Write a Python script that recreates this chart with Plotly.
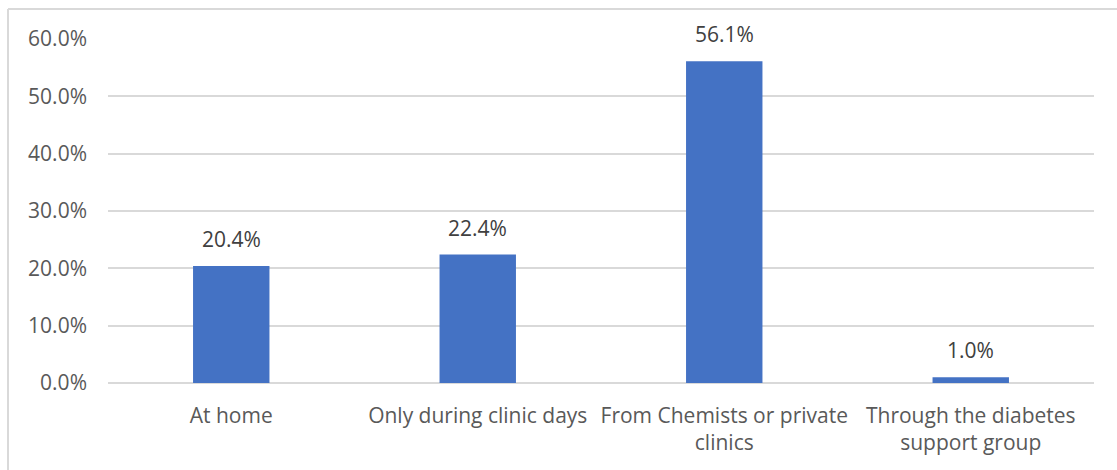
import plotly.graph_objects as go

# Where respondents get their blood glucose checked
categories = [
    "At home",
    "Only during clinic days",
    "From Chemists or private<br>clinics",
    "Through the diabetes<br>support group",
]
shares = [20.4, 22.4, 56.1, 1.0]
y_ticks = [0, 10, 20, 30, 40, 50, 60]

FONT = "Open Sans"
BAR_COLOR = "#4472C4"
GRID = "#D9D9D9"
SIZE = 21

fig = go.Figure(
    go.Bar(
        x=categories,
        y=shares,
        marker=dict(color=BAR_COLOR, line=dict(width=0)),
        width=0.31,
        hoverinfo="skip",
    )
)

# value labels sitting above each bar
for cat, val in zip(categories, shares):
    fig.add_annotation(
        x=cat, y=val, text=f"{val:.1f}%",
        showarrow=False, yanchor="bottom", yshift=11,
        font=dict(family=FONT, size=SIZE, color="#404040"),
    )

# chart frame (left and top edges)
fig.add_shape(type="line", xref="paper", yref="paper",
              x0=-0.1014, x1=-0.1014, y0=1.0872, y1=-0.5,
              line=dict(color=GRID, width=2))
fig.add_shape(type="line", xref="paper", yref="paper",
              x0=-0.1014, x1=1.05, y0=1.0872, y1=1.0872,
              line=dict(color=GRID, width=2))

fig.update_layout(
    width=1117, height=470,
    margin=dict(l=108, r=23, t=39, b=87),
    paper_bgcolor="white", plot_bgcolor="white",
    showlegend=False,
    font=dict(family=FONT, size=SIZE, color="#595959"),
    xaxis=dict(showgrid=False, showline=False, ticks="",
               ticklabelstandoff=18,
               tickfont=dict(family=FONT, size=SIZE, color="#595959")),
    yaxis=dict(range=[0, 60], tickvals=y_ticks,
               ticktext=[f"{v:.1f}%" for v in y_ticks],
               showgrid=True, gridcolor=GRID, gridwidth=1.5,
               zeroline=True, zerolinecolor=GRID, zerolinewidth=1.5,
               showline=False, ticks="", ticklabelstandoff=20,
               tickfont=dict(family=FONT, size=SIZE, color="#595959")),
)

fig.write_html("out.html")
